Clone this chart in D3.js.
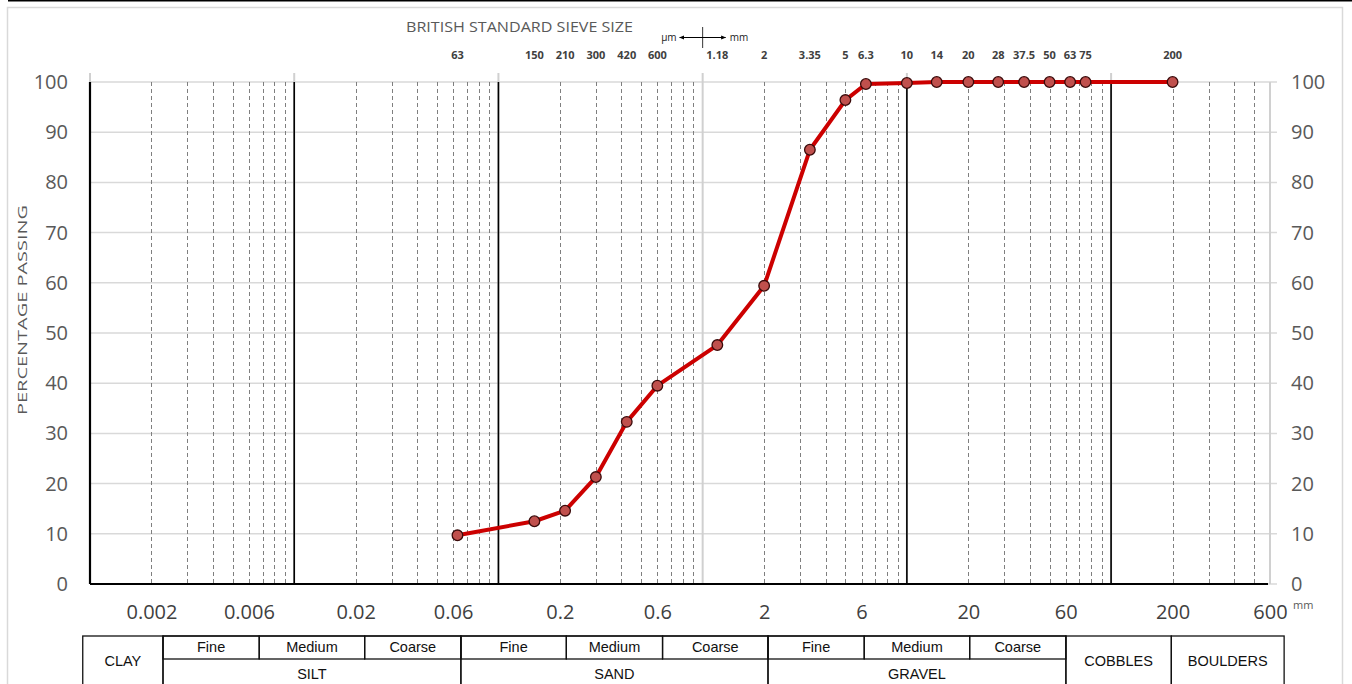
<!DOCTYPE html>
<html>
<head>
<meta charset="utf-8">
<script src="https://cdn.jsdelivr.net/npm/d3@7/dist/d3.min.js"></script>
<style>
  body { margin: 0; background: #fff; }
  text { font-family: "Open Sans", sans-serif; }
  .tbl text { font-family: "Liberation Sans", Arial, sans-serif; }
</style>
</head>
<body>
<div id="chart"></div>
<script>
// sieve sizes (mm), their labels and % passing
const sieveMm = [0.063, 0.15, 0.212, 0.3, 0.425, 0.6, 1.18, 2, 3.35, 5, 6.3, 10, 14, 20, 28, 37.5, 50, 63, 75, 200];
const sieveLabels = ["63", "150", "210", "300", "420", "600", "1.18", "2", "3.35", "5", "6.3", "10", "14", "20", "28", "37.5", "50", "63", "75", "200"];
const passing = [9.7, 12.5, 14.6, 21.3, 32.3, 39.5, 47.6, 59.4, 86.5, 96.4, 99.6, 99.8, 100, 100, 100, 100, 100, 100, 100, 100];

const yTicks = [0, 10, 20, 30, 40, 50, 60, 70, 80, 90, 100];
const xTickValues = [0.002, 0.006, 0.02, 0.06, 0.2, 0.6, 2, 6, 20, 60, 200, 600];
const decades = [0.001, 0.01, 0.1, 1, 10, 100];
const blackLines = [0.001, 0.01, 0.1, 10, 100];

// classification table (sizes in mm)
const subCells = [
  {from: 0.002, to: 0.006, label: "Fine"}, {from: 0.006, to: 0.02, label: "Medium"}, {from: 0.02, to: 0.06, label: "Coarse"},
  {from: 0.06, to: 0.2, label: "Fine"}, {from: 0.2, to: 0.6, label: "Medium"}, {from: 0.6, to: 2, label: "Coarse"},
  {from: 2, to: 6, label: "Fine"}, {from: 6, to: 20, label: "Medium"}, {from: 20, to: 60, label: "Coarse"}
];
const mainCells = [
  {from: 0.0008, to: 0.002, label: "CLAY", full: true},
  {from: 0.002, to: 0.06, label: "SILT", full: false},
  {from: 0.06, to: 2, label: "SAND", full: false},
  {from: 2, to: 60, label: "GRAVEL", full: false},
  {from: 60, to: 200, label: "COBBLES", full: true},
  {from: 200, to: 725, label: "BOULDERS", full: true}
];

const W = 1352, H = 684;
const margin = {top: 82, left: 90, right: 82, bottom: 100};

const svg = d3.select("#chart").append("svg")
  .attr("width", W).attr("height", H);

// outer frame
svg.append("rect").attr("x", 7.5).attr("y", 7.5).attr("width", 1335).attr("height", 720)
  .attr("fill", "none").attr("stroke", "#d9d9d9").attr("stroke-width", 1.5);
svg.append("line").attr("x1", 8).attr("x2", W).attr("y1", 0.5).attr("y2", 0.5)
  .attr("stroke", "#000").attr("stroke-width", 2);

const x = d3.scaleLog().domain([0.001, 600]).range([margin.left, 1270]);
const y = d3.scaleLinear().domain([0, 100]).range([584, margin.top]);

// horizontal gridlines
svg.append("g").selectAll("line").data(yTicks).join("line")
  .attr("x1", x(0.001)).attr("x2", x(600) + 7)
  .attr("y1", d => y(d)).attr("y2", d => y(d))
  .attr("stroke", "#d9d9d9").attr("stroke-width", 1.5);

// minor dashed lines
const minor = [];
decades.forEach(dec => { for (let k = 2; k <= 9; k++) { if (k * dec < 600) minor.push(k * dec); } });
svg.append("g").selectAll("line").data(minor).join("line")
  .attr("x1", d => Math.round(x(d)) + 0.5).attr("x2", d => Math.round(x(d)) + 0.5)
  .attr("y1", y(100)).attr("y2", y(0))
  .attr("stroke", "#7f7f7f").attr("stroke-width", 1).attr("stroke-dasharray", "4,3");

// decade lines (gray, poking above the top)
svg.append("g").selectAll("line").data(decades.concat([600])).join("line")
  .attr("x1", d => x(d)).attr("x2", d => x(d))
  .attr("y1", d => d === 600 ? y(100) : y(100) - 9).attr("y2", y(0))
  .attr("stroke", "#d0d0d0").attr("stroke-width", 2);

// black boundary lines
svg.append("g").selectAll("line").data(blackLines).join("line")
  .attr("x1", d => x(d)).attr("x2", d => x(d))
  .attr("y1", y(100)).attr("y2", y(0))
  .attr("stroke", "#000").attr("stroke-width", d => d === 0.001 ? 2.2 : 1.6);

svg.append("line").attr("x1", x(0.001)).attr("x2", x(600) - 2)
  .attr("y1", y(0)).attr("y2", y(0)).attr("stroke", "#000").attr("stroke-width", 2.2);

// y axes
const yLeft = svg.append("g").attr("transform", `translate(${x(0.001)},0)`)
  .call(d3.axisLeft(y).tickValues(yTicks).tickSize(0).tickPadding(22));
const yRight = svg.append("g").attr("transform", `translate(${x(600)},0)`)
  .call(d3.axisRight(y).tickValues(yTicks).tickSize(0).tickPadding(21));
[yLeft, yRight].forEach(g => {
  g.select(".domain").remove();
  g.selectAll("text").attr("font-size", 20).attr("fill", "#595959")
    .style("font-family", "'Open Sans', sans-serif");
});

// x axis labels
const xAxis = svg.append("g").attr("transform", `translate(0,${y(0)})`)
  .call(d3.axisBottom(x).tickValues(xTickValues).tickFormat(d3.format("~g")).tickSize(0).tickPadding(21));
xAxis.select(".domain").remove();
xAxis.selectAll("text").attr("font-size", 20).attr("fill", "#404040")
  .style("font-family", "'Open Sans', sans-serif");
svg.append("text").attr("x", x(600) + 23).attr("y", 609).attr("font-size", 11)
  .attr("fill", "#595959").text("mm");

// y title
svg.append("text").attr("transform", "translate(27,310) rotate(-90)")
  .attr("text-anchor", "middle").attr("font-size", 13.5).attr("fill", "#595959")
  .attr("textLength", 210).attr("lengthAdjust", "spacingAndGlyphs")
  .text("PERCENTAGE PASSING");

// sieve size header
svg.append("text").attr("x", 406).attr("y", 32).attr("font-size", 14.5).attr("fill", "#595959")
  .attr("textLength", 227).attr("lengthAdjust", "spacingAndGlyphs")
  .text("BRITISH STANDARD SIEVE SIZE");
svg.append("g").selectAll("text").data(sieveMm).join("text")
  .attr("x", d => x(d)).attr("y", 59).attr("text-anchor", "middle")
  .attr("font-size", 11).attr("font-weight", "bold").attr("fill", "#404040")
  .text((d, i) => sieveLabels[i]);

// µm | mm indicator
const cx = x(1);
const defs = svg.append("defs");
defs.append("marker").attr("id", "arr").attr("viewBox", "0 0 10 10").attr("refX", 9).attr("refY", 5)
  .attr("markerWidth", 5).attr("markerHeight", 5).attr("orient", "auto-start-reverse")
  .append("path").attr("d", "M0,1L10,5L0,9Z").attr("fill", "#000");
svg.append("line").attr("x1", cx).attr("x2", cx).attr("y1", 27).attr("y2", 48).attr("stroke", "#000").attr("stroke-width", 0.8);
svg.append("line").attr("x1", cx - 23).attr("x2", cx + 23).attr("y1", 37.5).attr("y2", 37.5)
  .attr("stroke", "#000").attr("stroke-width", 1)
  .attr("marker-start", "url(#arr)").attr("marker-end", "url(#arr)");
svg.append("text").attr("x", cx - 26).attr("y", 41).attr("text-anchor", "end").attr("font-size", 10).attr("fill", "#222").text("µm");
svg.append("text").attr("x", cx + 27).attr("y", 41).attr("font-size", 10).attr("fill", "#222").text("mm");

// grading curve
const pts = sieveMm.map((d, i) => [x(d), y(passing[i])]);
svg.append("path").attr("d", d3.line()(pts))
  .attr("fill", "none").attr("stroke", "#cc0000").attr("stroke-width", 4).attr("stroke-linejoin", "round");
svg.append("g").selectAll("circle").data(pts).join("circle")
  .attr("cx", d => d[0]).attr("cy", d => d[1]).attr("r", 5.3)
  .attr("fill", "#c0504d").attr("stroke", "#3a0a0a").attr("stroke-width", 1.3);

// classification table
const tx = d3.scaleLog().domain([0.002, 2]).range([163, 768]);
const tTop = 636, tMid = 659, tBot = 720;
const tbl = svg.append("g").attr("class", "tbl");
tbl.selectAll("rect.main").data(mainCells).join("rect").attr("class", "main")
  .attr("x", d => tx(d.from)).attr("y", tTop)
  .attr("width", d => tx(d.to) - tx(d.from)).attr("height", tBot - tTop)
  .attr("fill", "none").attr("stroke", "#111").attr("stroke-width", 1.3);
tbl.selectAll("rect.sub").data(subCells).join("rect").attr("class", "sub")
  .attr("x", d => tx(d.from)).attr("y", tTop)
  .attr("width", d => tx(d.to) - tx(d.from)).attr("height", tMid - tTop)
  .attr("fill", "none").attr("stroke", "#111").attr("stroke-width", 1.3);
tbl.selectAll("text.sub").data(subCells).join("text").attr("class", "sub")
  .attr("x", d => (tx(d.from) + tx(d.to)) / 2).attr("y", 652).attr("text-anchor", "middle")
  .attr("font-size", 14.5).attr("fill", "#111").text(d => d.label);
tbl.selectAll("text.main").data(mainCells).join("text").attr("class", "main")
  .attr("x", d => (tx(d.from) + tx(d.to)) / 2).attr("y", d => d.full ? 666 : 679)
  .attr("text-anchor", "middle").attr("font-size", 14.5).attr("fill", "#111").text(d => d.label);
</script>
</body>
</html>
